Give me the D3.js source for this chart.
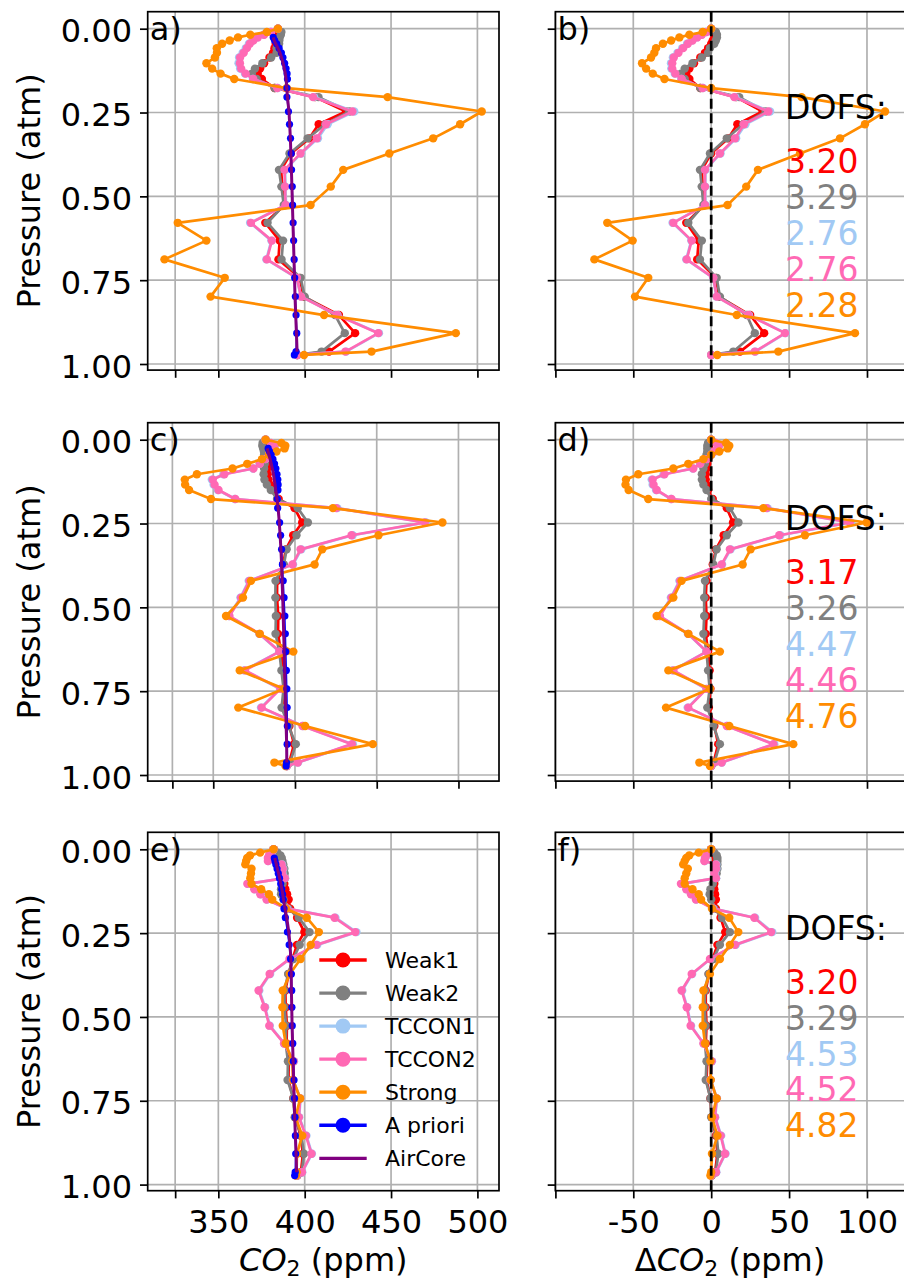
<!DOCTYPE html>
<html>
<head>
<meta charset="utf-8">
<script src="https://d3js.org/d3.v7.min.js"></script>
<style>
  body { margin: 0; background: #fff; }
  svg { display: block; font-family: "DejaVu Sans", sans-serif; }
  .tick line { stroke: #000; stroke-width: 1.7px; }
</style>
</head>
<body>
<svg id="chart" width="904" height="1283"></svg>
<script>
// retrieval pressure levels (atm)
const levels = [0.000, 0.010, 0.018, 0.026, 0.035, 0.045, 0.058, 0.072, 0.086, 0.103, 0.119, 0.134, 0.150, 0.177, 0.204,
                0.247, 0.285, 0.327, 0.372, 0.421, 0.471, 0.526, 0.579, 0.632, 0.688, 0.743, 0.799, 0.854, 0.908, 0.963, 0.973];

// row 1 (a, b)
const truthA   = [384.5, 383.5, 382.5, 381.8, 382.3, 383.2, 384.5, 385.7, 386.6, 387.5, 388.2, 388.8, 389.2, 389.6, 390.0,
                  390.9, 391.3, 391.7, 392.0, 392.3, 392.6, 392.9, 393.2, 393.5, 393.8, 394.1, 394.4, 394.8, 395.2, 395.6, 395.7];
const aprioriA = [null, null, null, 381.8, 382.6, 383.8, 385.2, 386.5, 387.4, 388.4, 389.2, 389.8, 390.0, 389.7, 389.7,
                  390.6, 391.2, 391.8, 392.2, 392.4, 392.8, 393.0, 393.3, 393.6, 393.9, 394.2, 394.6, 395.0, 395.4, 395.0, 394.0];
const weak1B  = [0, 2, 2.5, 2, 1, 0, -2, -4, -7, -11, -14, -16, -14, -7, 16, 33, 16.8, 11, 0, -6, -5.5, -4.5, -16, -8, -9, 3, 5, 25, 34, 18.5, 0];
const weak2B  = [0, 3, 3.7, 3.7, 3, 2, -0.8, -2, -6, -12, -17, -19.4, -17, -7, 18, 35, 20.6, 10, -0.8, -7.2, -6.1, -5, -14.7, -6, -7.2, 3.5, 5.6, 22.8, 28, 14.2, 0];
const tccon1B = [0, -3.2, -6.3, -9.4, -12.5, -15.5, -18.6, -21.6, -24.6, -25.8, -25.6, -23.4, -19.2, -5.2, 15.5, 37.8, 22, 16, 6, -3.6, -3.8, -3.7, -24.8, -12.8, -16, 1.2, 3.4, 24.2, 47.8, 28.4, 0];
const tccon2B = [0, -3, -6, -9, -12, -15, -18, -21, -24, -25, -25, -23, -19, -5.5, 14.8, 36.7, 21, 15.3, 5.6, -4, -4, -4, -24.3, -12.5, -15.7, 1.4, 3.5, 23.8, 47.4, 28, 0];
const strongB = [0, -5.4, -14, -20.4, -25.7, -31, -35.4, -36.5, -38.6, -44.4, -41.8, -37.5, -30, 0, 58, 111.6, 98.7, 82.7, 57, 30, 22.5, 10.5, -66.7, -50.4, -75, -40.4, -48.9, 16.4, 92.3, 43.1, 3.9];
const dofsB = ["3.20", "3.29", "2.76", "2.76", "2.28"];

// row 2 (c, d)
const truthC   = [382.0, 382.2, 382.5, 383.0, 383.5, 384.1, 384.8, 385.5, 386.1, 386.8, 387.3, 387.8, 388.2, 389.0, 389.7,
                  390.4, 390.9, 391.4, 391.8, 392.1, 392.5, 392.8, 393.1, 393.4, 393.7, 394.0, 394.3, 394.6, 394.9, 395.0, 395.0];
const aprioriC = [null, null, null, 383.6, 384.4, 385.4, 386.5, 387.5, 388.3, 389.0, 389.5, 389.7, 389.6, 389.2, 389.4,
                  390.6, 391.2, 391.8, 392.3, 392.8, 393.3, 393.8, 394.1, 394.4, 394.7, 395.0, 395.2, 395.3, 395.2, 394.8, 394.6];
const weak1D  = [0, -1, -1.5, -1.5, -1.5, -2, -2, -2.5, -3, -3.5, -3.5, -3, -2, 1, 10, 14, 8, 3, 1, -3, -3.5, -3, -3.5, -2, -1, -0.5, -1.5, 2, 4.5, 1.5, 0];
const weak2D  = [0, -2, -2.5, -2.5, -2.5, -3, -3, -4, -5, -6, -6, -5, -3, 0, 12, 17.5, 10, 3.5, 1.4, -4, -4.5, -4.5, -5, -3, -2, -1, -2.5, 1.5, 5.6, 2, 0];
const tccon1D = [0, 3.2, 5.2, 4.3, 2.2, 0.2, -2.8, -7.2, -11.8, -30.6, -38.2, -37.6, -35.4, -25.8, 36.2, 89.8, 44.4, 12.5, 7, -20.4, -25.9, -33.2, -15, -3, -24.8, -3.2, -15.1, 10.3, 40.5, 6.9, 0];
const tccon2D = [0, 3, 5, 4, 2, 0, -3, -7, -11.5, -30, -37.6, -37, -35, -25.5, 35.6, 89, 43.7, 12, 6.7, -20, -25.5, -32.9, -14.7, -2.9, -24.3, -2.9, -14.7, 10, 39.9, 6.7, 0];
const strongD = [0, 9.5, 11.6, 10.6, 5.2, 0, -5, -14.7, -24.3, -46.8, -54.7, -55, -53, -40.4, 33.5, 99.8, 60.2, 25.3, 20.2, -19, -24.3, -35, -14.7, 5.6, -27.5, -0.8, -29, 11.6, 52.7, -7.6, -0.8];
const dofsD = ["3.17", "3.26", "4.47", "4.46", "4.76"];

// row 3 (e, f)
const truthE   = [382.0, 382.2, 382.4, 382.7, 383.1, 383.6, 384.2, 384.9, 385.5, 386.2, 386.8, 387.3, 387.7, 388.6, 389.6,
                  390.8, 391.5, 392.0, 392.2, 392.3, 392.5, 392.7, 393.0, 393.3, 393.6, 393.9, 394.2, 394.6, 395.0, 395.3, 395.4];
const aprioriE = [null, null, null, 382.4, 382.8, 383.3, 384.0, 384.7, 385.4, 386.1, 386.7, 387.2, 387.6, 388.0, 388.8,
                  390.0, 391.0, 391.8, 392.3, 392.5, 392.6, 392.8, 393.1, 393.4, 393.8, 394.1, 394.4, 394.6, 394.8, 394.5, 394.2];
const weak1F  = [0, 1.5, 2.5, 3, 3, 3, 3, 3, 3, 2, 2, 2.5, 3, 3, 6, 9, 4, 1, -1.5, -3.5, -3.5, -3, -3.5, -2.5, -3, -0.5, 0.3, 3, 4, 2.5, 0.3];
const weak2F  = [0, 2, 3.5, 4, 4, 4, 4, 3.5, 3, 1, -0.5, -1, 0, 2, 7, 12, 5.6, 1.4, -1.8, -4, -4.2, -3.5, -4, -3, -3.5, -0.5, 0, 3.5, 4.6, 3, 0.3];
const tccon1F = [0, -1.3, -2.8, -3.7, -4.1, 3.3, 3.4, 2.3, 3.2, -19, -15.6, -12.6, -9.5, 1.3, 28.2, 39.2, 15.8, -0.5, -12.2, -18.6, -15.4, -12.9, -4.8, 0.5, -0.3, 3.7, 2.6, 6.4, 9.2, 3.3, 0];
const tccon2F = [0, -1.5, -3, -4, -4.4, 3, 3.1, 2, 3, -19.4, -16, -13, -9.8, 1, 27.7, 38.5, 15.3, -0.8, -12.5, -19, -15.7, -13.2, -5, 0.3, -0.5, 3.5, 2.4, 6.1, 8.9, 3.1, 0];
const strongF = [0, -8, -14, -16, -17, -18, -15, -16, -17, -17, -12, -8, -6.5, 0.5, 11.6, 17.4, 12, 5.6, -0.8, -5, -5.4, -5.4, -4, -0.5, -0.3, 3.5, 0.5, 4, 0.5, 0, -0.5];
const dofsF = ["3.20", "3.29", "4.53", "4.52", "4.82"];

const seriesNames  = ["Weak1", "Weak2", "TCCON1", "TCCON2", "Strong"];
const seriesColors = ["#ff0000", "#808080", "#a1c9f4", "#ff69b4", "#ff8c00"];
const legendNames  = ["Weak1", "Weak2", "TCCON1", "TCCON2", "Strong", "A priori", "AirCore"];
const legendColors = ["#ff0000", "#808080", "#a1c9f4", "#ff69b4", "#ff8c00", "#0000ff", "#800080"];

const xTicksLeft  = [325, 350, 400, 450, 500];
const xLabelsLeft = ["", "350", "400", "450", "500"];
const xTicksRight  = [-100, -50, 0, 50, 100];
const xLabelsRight = ["", "-50", "0", "50", "100"];
const yTicks  = [0, 0.25, 0.5, 0.75, 1.0];
const yLabels = ["0.00", "0.25", "0.50", "0.75", "1.00"];

// layout
const svg = d3.select("#chart");
const colX = [[147.7, 499], [555.4, 905]];
const rowTop = [11.7, 422.7, 832.3];
const panelH = 358.4;
const yDomain = [-0.0507, 1.0182];
const tickLen = 7.7;
const bigFont = 32;

const rows = [
  {left: "a)", right: "b)", truth: truthA, apriori: aprioriA, deltas: [weak1B, weak2B, tccon1B, tccon2B, strongB], dofs: dofsB, xDom: [309.1, 512.5]},
  {left: "c)", right: "d)", truth: truthC, apriori: aprioriC, deltas: [weak1D, weak2D, tccon1D, tccon2D, strongD], dofs: dofsD, xDom: [309.9, 524.8]},
  {left: "e)", right: "f)", truth: truthE, apriori: aprioriE, deltas: [weak1F, weak2F, tccon1F, tccon2F, strongF], dofs: dofsF, xDom: [309.1, 512.5]}
];

function drawSeries(g, pts, x, y, color, r, lw, markers) {
  const line = d3.line().x(d => x(d.v)).y(d => y(d.p));
  g.append("path").datum(pts)
    .attr("d", line)
    .attr("fill", "none")
    .attr("stroke", color)
    .attr("stroke-width", lw)
    .attr("stroke-linejoin", "round");
  if (markers) {
    g.selectAll(null).data(pts).enter().append("circle")
      .attr("cx", d => x(d.v))
      .attr("cy", d => y(d.p))
      .attr("r", r)
      .attr("fill", color);
  }
}

function drawPanel(ri, ci) {
  const row = rows[ri];
  const top = rowTop[ri], bottom = top + panelH;
  const [x0, x1] = colX[ci];
  const x = d3.scaleLinear().domain(ci === 0 ? row.xDom : [-100, 124.4]).range([x0, x1]);
  const y = d3.scaleLinear().domain(yDomain).range([top, bottom]);
  const xt = ci === 0 ? xTicksLeft : xTicksRight;
  const xl = ci === 0 ? xLabelsLeft : xLabelsRight;
  const id = "clip" + ri + ci;

  svg.append("clipPath").attr("id", id).append("rect")
    .attr("x", x0).attr("y", top).attr("width", x1 - x0).attr("height", panelH);

  const grid = svg.append("g");
  grid.selectAll(null).data(xt).enter().append("line")
    .attr("x1", d => x(d)).attr("x2", d => x(d)).attr("y1", top).attr("y2", bottom)
    .attr("stroke", "#b0b0b0").attr("stroke-width", 1.7);
  grid.selectAll(null).data(yTicks).enter().append("line")
    .attr("x1", x0).attr("x2", x1).attr("y1", d => y(d)).attr("y2", d => y(d))
    .attr("stroke", "#b0b0b0").attr("stroke-width", 1.7);

  const plot = svg.append("g").attr("clip-path", "url(#" + id + ")");
  row.deltas.forEach((vals, k) => {
    const pts = levels.map((p, i) => ({p: p, v: ci === 0 ? row.truth[i] + vals[i] : vals[i]}));
    drawSeries(plot, pts, x, y, seriesColors[k], 4.2, 2.7, true);
  });

  if (ci === 0) {
    const ap = levels.map((p, i) => ({p: p, v: row.apriori[i]})).filter(d => d.v !== null);
    drawSeries(plot, ap, x, y, "#0000ff", 3.6, 1.5, true);
    const ac = levels.map((p, i) => ({p: p, v: row.truth[i]})).filter(d => d.p >= 0.025 && d.p <= 0.965);
    drawSeries(plot, ac, x, y, "#800080", 0, 3, false);
  } else {
    plot.append("line")
      .attr("x1", x(0)).attr("x2", x(0)).attr("y1", top).attr("y2", bottom)
      .attr("stroke", "#000").attr("stroke-width", 2.7).attr("stroke-dasharray", "10,4.5");
  }

  // spines
  svg.append("rect").attr("x", x0).attr("y", top).attr("width", x1 - x0).attr("height", panelH)
    .attr("fill", "none").attr("stroke", "#000").attr("stroke-width", 1.7);

  // axes
  const xAxis = d3.axisBottom(x).tickValues(xt)
    .tickFormat((d, i) => ri === 2 ? xl[i] : "")
    .tickSizeInner(tickLen).tickSizeOuter(0).tickPadding(12);
  const gx = svg.append("g").attr("transform", "translate(0," + bottom + ")").call(xAxis);
  gx.select(".domain").remove();

  const yAxis = d3.axisLeft(y).tickValues(yTicks)
    .tickFormat((d, i) => ci === 0 ? yLabels[i] : "")
    .tickSizeInner(tickLen).tickSizeOuter(0).tickPadding(8);
  const gy = svg.append("g").attr("transform", "translate(" + x0 + ",0)").call(yAxis);
  gy.select(".domain").remove();
  gy.selectAll(".tick text").attr("dy", "0.41em");
  [gx, gy].forEach(a => a.attr("font-family", "DejaVu Sans").attr("font-size", bigFont)
    .selectAll(".tick text").attr("fill", "#000"));

  // panel letter
  svg.append("text").attr("x", x0 + 2).attr("y", top + 28.3)
    .attr("font-size", bigFont).text(ci === 0 ? row.left : row.right);

  if (ci === 0) {
    svg.append("text")
      .attr("transform", "translate(39.5," + (top + panelH / 2) + ") rotate(-90)")
      .attr("text-anchor", "middle").attr("font-size", bigFont)
      .text("Pressure (atm)");
  } else {
    svg.append("text").attr("x", 785).attr("y", top + 107.6)
      .attr("font-size", 33).text("DOFS:");
    svg.selectAll(null).data(row.dofs).enter().append("text")
      .attr("x", 785).attr("y", (d, i) => top + 161.6 + i * 35.8)
      .attr("font-size", 33).attr("fill", (d, i) => seriesColors[i])
      .text(d => d);
  }

  // legend in panel e
  if (ri === 2 && ci === 0) {
    const lg = svg.append("g");
    const ly = d3.scalePoint().domain(legendNames).range([960, 1158.3]);
    legendNames.forEach((name, i) => {
      const yy = ly(name);
      lg.append("line").attr("x1", 319.3).attr("x2", 366.7).attr("y1", yy).attr("y2", yy)
        .attr("stroke", legendColors[i]).attr("stroke-width", 3.3);
      if (name !== "AirCore") {
        lg.append("circle").attr("cx", 343).attr("cy", yy).attr("r", 7.5).attr("fill", legendColors[i]);
      }
      lg.append("text").attr("x", 385).attr("y", yy).attr("dy", "0.36em")
        .attr("font-size", 22).text(name);
    });
  }
}

for (let ri = 0; ri < 3; ri++) {
  drawPanel(ri, 0);
  drawPanel(ri, 1);
}

// x axis titles
const lt = svg.append("text").attr("x", 323.3).attr("y", 1271).attr("text-anchor", "middle").attr("font-size", bigFont);
lt.append("tspan").attr("font-style", "italic").text("CO");
lt.append("tspan").attr("font-size", 22).attr("dy", 5).text("2");
lt.append("tspan").attr("dy", -5).text(" (ppm)");

const rt = svg.append("text").attr("x", 730).attr("y", 1271).attr("text-anchor", "middle").attr("font-size", bigFont);
rt.append("tspan").text("\u0394");
rt.append("tspan").attr("font-style", "italic").text("CO");
rt.append("tspan").attr("font-size", 22).attr("dy", 5).text("2");
rt.append("tspan").attr("dy", -5).text(" (ppm)");
</script>
</body>
</html>
